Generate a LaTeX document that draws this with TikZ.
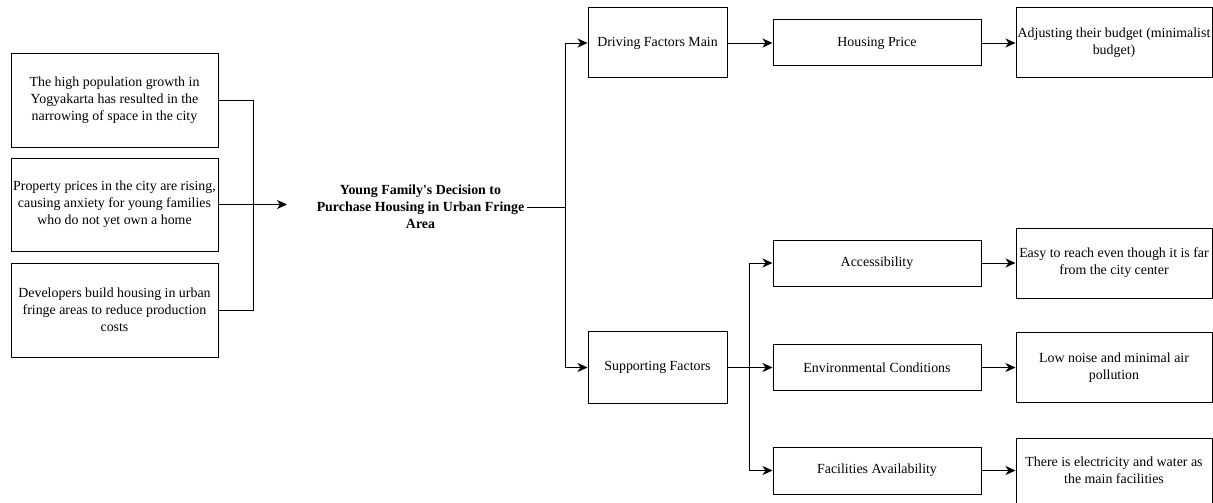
\documentclass[tikz,border=0pt]{standalone}
\usepackage{fontspec}
\setmainfont{Liberation Serif}
\usetikzlibrary{arrows.meta}
\begin{document}
\begin{tikzpicture}[x=1pt,y=-1pt,
  box/.style={draw=black,line width=1pt,align=center,inner sep=1pt,
    font=\fontsize{13.9}{17}\selectfont},
  conn/.style={line width=0.9pt},
  arr/.style={conn,-{Stealth[length=10pt,width=9pt,inset=3pt]}}]
\useasboundingbox (0,0) rectangle (1213,503);
% left boxes
\node[box,minimum width=207pt,minimum height=93pt] (b1) at (114.5,100.5)
  {The high population growth in\\Yogyakarta has resulted in the\\narrowing of space in the city};
\node[box,minimum width=207pt,minimum height=93pt] (b2) at (114.5,204.5)
  {Property prices in the city are rising,\\causing anxiety for young families\\who do not yet own a home};
\node[box,minimum width=207pt,minimum height=94pt] (b3) at (114.5,310)
  {Developers build housing in urban\\fringe areas to reduce production\\costs};
% title
\node[font=\fontsize{13.9}{17}\selectfont\bfseries,align=center,inner sep=3pt] (title) at (420.5,207)
  {Young Family\textquotesingle s Decision to\\Purchase Housing in Urban Fringe\\Area};
\coordinate (tin) at (287,204.5);
\coordinate (r1) at (253,0);
% middle column
\node[box,minimum width=139pt,minimum height=70pt] (dfm) at (657.5,43) {Driving Factors Main};
\node[box,minimum width=139pt,minimum height=72pt] (sf) at (657.5,367.5) {Supporting Factors};
\coordinate (j1) at (565,207);
% third column
\node[box,minimum width=208pt,minimum height=46pt] (hp) at (877,43) {Housing Price};
\node[box,minimum width=208pt,minimum height=46pt] (acc) at (877,263) {Accessibility};
\node[box,minimum width=208pt,minimum height=46pt] (env) at (877,367.5) {Environmental Conditions};
\node[box,minimum width=208pt,minimum height=47pt] (fac) at (877,470.5) {Facilities Availability};
\coordinate (j2) at (749,367.5);
% fourth column
\node[box,minimum width=196pt,minimum height=70pt] (adj) at (1114,43) {Adjusting their budget (minimalist\\budget)};
\node[box,minimum width=196pt,minimum height=70pt] (easy) at (1114,263) {Easy to reach even though it is far\\from the city center};
\node[box,minimum width=196pt,minimum height=70pt] (low) at (1114,367.5) {Low noise and minimal air\\pollution};
\node[box,minimum width=196pt,minimum height=65pt] (there) at (1114,470.5) {There is electricity and water as\\the main facilities};
% connectors
\draw[conn] (b1.east) -| (r1 |- b3.east) -- (b3.east);
\draw[arr] (b2.east) -- (tin);
\draw[conn] (title.east) -- (j1);
\draw[arr] (j1) |- (dfm.west);
\draw[arr] (j1) |- (sf.west);
\draw[arr] (dfm.east) -- (hp.west);
\draw[arr] (hp.east) -- (adj.west);
\draw[conn] (sf.east) -- (j2);
\draw[arr] (j2) |- (acc.west);
\draw[arr] (j2) -- (env.west);
\draw[arr] (j2) |- (fac.west);
\draw[arr] (acc.east) -- (easy.west);
\draw[arr] (env.east) -- (low.west);
\draw[arr] (fac.east) -- (there.west);
\end{tikzpicture}
\end{document}
